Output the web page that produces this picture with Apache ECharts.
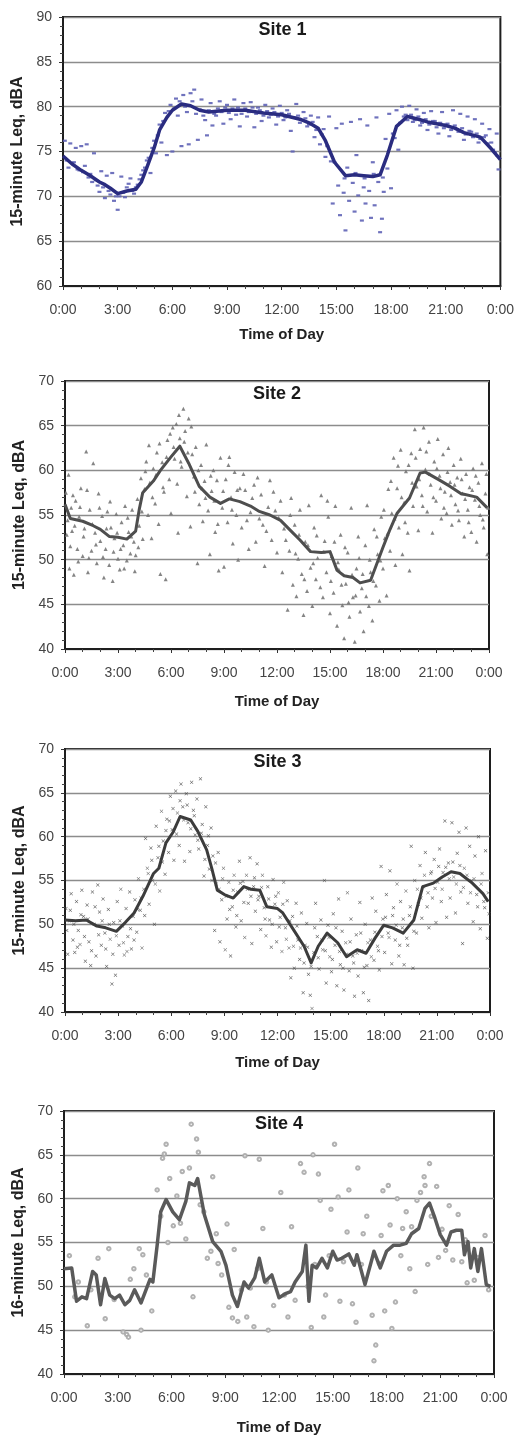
<!DOCTYPE html>
<html>
<head>
<meta charset="utf-8">
<script src="https://cdn.jsdelivr.net/npm/echarts@6/dist/echarts.min.js"></script>
<style>
  html, body { margin: 0; padding: 0; background: #fff; }
  #chart { width: 517px; height: 1436px; }
</style>
</head>
<body>
<div id="chart"></div>
<script>
// hours of day on x, 15-minute Leq (dBA) on y
var siteNames = ['Site 1', 'Site 2', 'Site 3', 'Site 4'];
var yNames = ['15-minute Leq, dBA', '15-minute Leq, dBA', '15-minute Leq, dBA', '16-minute Leq, dBA'];
var yRanges = [[60, 90], [40, 70], [40, 70], [40, 70]];

// average lines [hour, dBA]
var site1Avg = [[0,74.5],[0.5,73.6],[1,72.9],[1.5,72.3],[2,71.6],[2.3,71.3],[2.6,70.9],[3,70.3],[3.5,70.6],[4,70.8],[4.3,71.6],[4.6,73.2],[5,75.4],[5.3,77.4],[5.7,78.8],[6,79.6],[6.5,80.3],[7,80.1],[7.5,79.6],[8,79.4],[9,79.6],[10,79.6],[11,79.3],[12,79.1],[13,78.6],[13.5,78.2],[14,77.6],[14.4,76.2],[14.9,73.8],[15.5,72.3],[16,72.4],[16.5,72.3],[17,72.2],[17.4,72.4],[17.8,74.6],[18.3,77.8],[18.9,78.9],[19.5,78.6],[20,78.3],[21,77.9],[21.5,77.6],[22,77.1],[22.9,76.6],[23.5,75.3],[24,74.1]];
var site2Avg = [[0,56.2],[0.3,54.6],[1,54.3],[1.6,53.8],[2,53.4],[2.5,52.6],[3,52.5],[3.5,52.3],[4,53.2],[4.2,55.6],[4.4,57.5],[5,58.8],[5.4,60.0],[6,61.5],[6.5,62.7],[7,60.8],[7.6,58.2],[8.2,57.0],[8.8,56.3],[9.3,56.8],[9.9,56.5],[10.5,56.0],[11,55.4],[11.6,55.0],[12.2,54.4],[12.8,53.2],[13.3,52.2],[13.9,50.9],[14.5,50.8],[15,50.9],[15.4,48.8],[15.8,48.2],[16.3,48.0],[16.7,47.4],[17.3,47.7],[18,51.4],[18.4,53.4],[18.8,55.2],[19.5,56.9],[20.1,59.7],[20.4,59.8],[21.2,58.9],[21.8,58.2],[22.4,57.4],[23.3,57.0],[23.9,55.8]];
var site3Avg = [[0,50.5],[0.6,50.4],[1.2,50.5],[1.8,49.8],[2.3,49.6],[2.9,49.2],[3.4,50.2],[3.9,51.3],[4.4,53.2],[5,55.8],[5.3,56.4],[5.7,59.3],[6.1,60.5],[6.5,62.3],[7.1,61.9],[7.5,60.6],[8,58.5],[8.3,56.3],[8.6,53.9],[9,53.4],[9.5,53.0],[10.1,54.3],[10.5,54.0],[11,53.9],[11.4,52.0],[12,51.8],[12.3,51.3],[12.9,49.4],[13.5,47.5],[13.9,45.6],[14.3,47.5],[14.8,49.0],[15.4,47.9],[15.9,46.3],[16.5,47.1],[17,46.7],[17.5,48.4],[18,49.9],[18.5,49.6],[19.1,49.0],[19.7,50.5],[20.2,54.3],[20.8,54.7],[21.3,55.4],[21.8,56.0],[22.3,55.8],[23,54.7],[23.6,53.5],[23.9,52.6]];
var site4Avg = [[0,52.0],[0.43,52.1],[0.7,48.3],[1,48.8],[1.26,48.6],[1.6,51.7],[1.8,51.3],[2.04,47.9],[2.28,50.9],[2.55,49.0],[2.83,48.6],[3.1,49.0],[3.4,47.9],[3.67,48.4],[3.94,49.6],[4.3,48.1],[4.8,50.8],[4.96,50.5],[5.2,54.7],[5.4,58.5],[5.7,59.9],[6.07,58.5],[6.44,57.6],[6.8,59.7],[7,61.8],[7.3,61.5],[7.46,62.3],[7.83,58.2],[8.3,55.1],[8.76,54.0],[9.04,52.4],[9.4,49.0],[9.68,47.7],[10.05,50.5],[10.3,49.8],[10.65,51.0],[10.9,53.2],[11.2,50.5],[11.6,51.3],[12,48.7],[12.4,49.2],[12.65,49.4],[12.9,50.5],[13.3,51.7],[13.5,54.7],[13.67,48.3],[13.85,52.4],[14.1,52.1],[14.4,53.2],[14.7,52.1],[15,54.0],[15.24,53.0],[15.5,53.2],[15.9,53.7],[16.2,52.4],[16.35,53.6],[16.8,50.2],[17.2,53.2],[17.3,54.0],[17.65,52.1],[18,54.0],[18.4,54.7],[18.76,54.7],[19.1,54.9],[19.4,56.0],[19.8,56.6],[20.15,58.9],[20.4,59.5],[20.7,57.8],[21,55.9],[21.35,54.7],[21.6,56.2],[21.9,56.4],[22.2,56.4],[22.35,53.6],[22.55,55.1],[22.7,52.1],[22.9,54.3],[23.1,51.7],[23.3,54.3],[23.57,50.2],[23.8,50.0]];

// individual 15-minute readings [hour, dBA]
var site1Pts = [[0.1,76.2],[0.3,73.2],[0.4,75.9],[0.6,73.8],[0.7,75.4],[0.9,72.9],[1.0,75.6],[1.2,73.4],[1.3,75.8],[1.5,72.5],[1.7,74.8],[1.8,71.8],[2.0,70.5],[2.1,72.8],[2.3,69.8],[2.4,72.3],[2.6,70.2],[2.7,72.6],[2.8,69.5],[3.0,68.5],[3.1,70.0],[3.2,72.2],[3.4,69.9],[3.6,71.4],[3.7,72.0],[3.9,70.3],[4.1,71.3],[4.3,72.4],[4.5,73.2],[4.7,74.3],[4.8,72.6],[5.0,76.2],[5.1,74.8],[5.3,78.0],[5.4,76.0],[5.6,79.3],[5.7,74.6],[5.9,80.2],[6.0,75.0],[6.2,80.9],[6.3,79.0],[6.5,75.6],[6.6,81.3],[6.8,79.4],[6.9,75.8],[7.0,81.5],[7.2,81.9],[7.3,79.2],[7.4,76.3],[7.6,80.8],[7.8,78.5],[7.9,76.8],[8.1,80.4],[8.2,77.9],[8.4,79.0],[8.6,80.6],[8.8,78.1],[9.0,80.2],[9.2,78.6],[9.4,80.8],[9.5,79.1],[9.7,77.8],[9.9,80.4],[10.1,78.9],[10.3,80.5],[10.5,77.7],[10.7,79.9],[10.9,78.4],[11.1,80.2],[11.3,78.8],[11.5,79.8],[11.7,78.0],[11.9,80.1],[12.1,78.5],[12.3,79.6],[12.5,77.3],[12.6,75.0],[12.8,80.3],[13.0,78.2],[13.2,79.4],[13.4,77.8],[13.6,79.0],[13.8,76.6],[14.0,78.8],[14.1,75.8],[14.3,77.5],[14.4,74.4],[14.6,78.9],[14.7,73.9],[14.8,69.2],[15.0,77.6],[15.1,71.2],[15.2,67.9],[15.3,78.1],[15.4,70.4],[15.5,66.2],[15.6,73.2],[15.7,69.5],[15.8,78.3],[15.9,71.5],[16.0,68.3],[16.1,74.6],[16.2,70.1],[16.3,78.6],[16.4,67.3],[16.5,71.0],[16.6,69.2],[16.7,77.9],[16.8,70.6],[16.9,67.6],[17.0,73.8],[17.1,69.0],[17.2,78.8],[17.3,71.6],[17.4,66.0],[17.5,67.5],[17.6,70.5],[17.7,76.4],[17.8,73.1],[17.9,79.2],[18.0,70.9],[18.1,77.0],[18.3,79.6],[18.4,75.2],[18.6,80.0],[18.8,79.1],[19.0,80.1],[19.2,78.3],[19.4,79.7],[19.6,77.9],[19.8,79.3],[20.0,77.4],[20.2,79.5],[20.4,78.4],[20.6,77.0],[20.8,79.4],[21.0,78.0],[21.2,76.7],[21.4,79.6],[21.6,77.5],[21.8,79.2],[22.0,76.3],[22.2,78.9],[22.4,77.2],[22.6,78.6],[22.8,76.0],[23.0,78.1],[23.2,76.8],[23.4,77.5],[23.6,75.2],[23.8,77.0],[23.9,73.0],
  [0.2,74.0],[0.5,73.7],[0.8,73.0],[1.1,72.7],[1.4,72.1],[1.6,71.6],[1.9,71.2],[2.2,71.0],[2.5,70.6],[2.9,70.0],[3.3,70.4],[3.5,71.0],[3.8,70.6],[4.0,71.0],[4.2,71.9],[4.4,72.9],[4.6,74.0],[4.9,75.4],[5.2,76.8],[5.5,78.4],[5.8,79.5],[6.1,79.8],[6.4,80.6],[6.7,80.0],[7.1,80.6],[7.5,79.7],[7.7,79.0],[8.0,79.6],[8.3,79.2],[8.5,79.8],[8.7,79.4],[8.9,79.9],[9.1,79.3],[9.3,79.8],[9.6,79.9],[9.8,79.2],[10.0,79.8],[10.2,79.4],[10.4,79.9],[10.6,79.2],[10.8,79.6],[11.0,79.0],[11.2,79.5],[11.4,79.1],[11.6,79.4],[11.8,78.9],[12.0,79.3],[12.2,78.8],[12.4,79.2],[12.7,78.8],[12.9,79.0],[13.1,78.5],[13.3,78.7],[13.5,78.0],[13.7,78.3],[13.9,77.4],[14.2,76.9],[14.5,75.6],[14.9,73.8],[15.45,72.0],[16.05,72.6],[16.55,72.0],[17.05,72.5],[17.55,72.1],[18.2,76.5],[18.5,78.2],[18.7,78.9],[18.9,78.5],[19.1,79.1],[19.3,78.5],[19.5,78.9],[19.7,78.2],[19.9,78.6],[20.1,78.0],[20.3,78.4],[20.5,77.7],[20.7,78.2],[20.9,77.6],[21.1,78.1],[21.3,77.4],[21.5,77.9],[21.7,77.2],[21.9,77.6],[22.1,76.9],[22.3,77.3],[22.5,76.6],[22.7,77.0],[22.9,76.4],[23.1,76.6],[23.3,75.9],[23.5,76.0],[23.7,74.9],[23.85,74.5]];
var site2Pts = [[0.05,57.5],[0.1,52.8],[0.2,59.5],[0.25,49.0],[0.35,55.8],[0.4,53.2],[0.5,48.3],[0.6,56.6],[0.7,51.2],[0.8,54.8],[0.9,58.0],[1.0,50.4],[1.1,53.5],[1.2,62.1],[1.3,48.6],[1.4,55.6],[1.5,51.0],[1.6,60.8],[1.7,53.0],[1.8,49.6],[1.9,57.4],[2.0,52.1],[2.1,54.9],[2.2,48.0],[2.3,51.2],[2.4,55.4],[2.5,49.4],[2.6,53.6],[2.7,47.6],[2.8,52.4],[2.9,55.1],[3.0,50.1],[3.1,48.9],[3.2,54.2],[3.3,51.6],[3.4,56.0],[3.5,49.9],[3.6,53.1],[3.7,50.7],[3.8,55.6],[3.9,52.0],[4.0,50.5],[4.1,56.8],[4.2,53.8],[4.3,59.1],[4.4,52.3],[4.5,57.9],[4.6,61.0],[4.7,55.0],[4.8,58.6],[4.9,52.4],[5.0,60.2],[5.1,56.3],[5.2,62.0],[5.3,54.0],[5.4,48.4],[5.5,60.9],[5.6,57.6],[5.7,47.8],[5.8,63.4],[5.9,59.0],[6.0,55.2],[6.1,64.8],[6.2,61.3],[6.3,65.2],[6.4,53.0],[6.5,63.6],[6.6,60.4],[6.7,66.9],[6.8,64.4],[6.9,57.1],[7.0,65.8],[7.1,53.7],[7.2,61.8],[7.3,59.3],[7.4,62.6],[7.5,49.6],[7.6,56.2],[7.7,60.6],[7.8,54.3],[7.9,58.8],[8.0,62.9],[8.1,55.5],[8.2,50.6],[8.3,57.7],[8.4,60.0],[8.5,53.1],[8.6,58.9],[8.7,48.8],[8.8,61.4],[8.9,55.8],[9.0,49.2],[9.1,59.0],[9.2,54.2],[9.3,61.5],[9.4,57.0],[9.5,51.8],[9.6,59.8],[9.7,55.0],[9.8,50.0],[9.9,58.0],[10.0,53.6],[10.2,57.8],[10.4,51.2],[10.5,55.3],[10.7,58.4],[10.8,52.0],[11.0,54.6],[11.1,57.3],[11.3,49.3],[11.4,53.2],[11.6,58.9],[11.7,52.2],[11.9,55.5],[12.0,50.8],[12.2,56.6],[12.3,48.6],[12.4,53.5],[12.6,44.4],[12.7,51.0],[12.8,56.9],[12.9,47.2],[13.0,53.9],[13.1,45.9],[13.2,50.1],[13.3,55.6],[13.4,48.4],[13.5,43.8],[13.6,52.0],[13.7,46.5],[13.8,56.1],[13.9,49.1],[14.0,44.8],[14.1,53.6],[14.2,47.8],[14.3,50.2],[14.5,57.2],[14.6,45.8],[14.7,52.1],[14.8,48.6],[14.9,54.8],[15.0,44.0],[15.1,50.4],[15.2,46.3],[15.3,56.0],[15.4,42.6],[15.5,48.9],[15.6,52.8],[15.7,44.9],[15.8,41.2],[15.9,47.3],[16.0,50.8],[16.1,43.6],[16.2,55.8],[16.3,45.8],[16.4,40.8],[16.5,49.0],[16.6,52.6],[16.7,44.2],[16.8,46.8],[16.9,42.0],[17.0,51.6],[17.1,56.1],[17.2,44.8],[17.3,48.6],[17.4,43.2],[17.5,53.4],[17.6,47.1],[17.7,50.6],[17.8,45.4],[17.9,54.8],[18.0,49.0],[18.1,52.4],[18.2,46.0],[18.3,57.9],[18.4,51.0],[18.5,55.2],[18.6,61.4],[18.7,49.4],[18.8,58.0],[18.9,53.6],[19.0,62.3],[19.1,50.6],[19.2,56.4],[19.3,59.9],[19.4,53.0],[19.5,48.8],[19.6,61.9],[19.7,56.0],[19.8,64.6],[19.9,58.2],[20.0,53.3],[20.1,62.4],[20.2,57.2],[20.3,64.8],[20.4,60.1],[20.5,55.4],[20.6,63.2],[20.7,58.4],[20.8,53.0],[20.9,61.0],[21.0,56.6],[21.1,63.5],[21.2,59.4],[21.3,54.6],[21.4,61.8],[21.5,57.6],[21.6,55.2],[21.7,62.5],[21.8,58.7],[21.9,53.9],[22.0,60.6],[22.1,56.2],[22.2,59.2],[22.3,54.4],[22.4,61.3],[22.5,57.4],[22.6,52.6],[22.7,59.6],[22.8,55.6],[22.9,58.1],[23.0,53.1],[23.1,60.2],[23.2,56.7],[23.3,52.0],[23.4,58.6],[23.5,55.0],[23.6,60.8],[23.7,53.6],[23.8,57.4],[23.9,50.6],[23.95,55.8],
  [0.15,54.4],[0.3,51.5],[0.45,57.2],[0.55,53.8],[0.75,49.8],[0.85,55.9],[1.05,52.6],[1.25,57.8],[1.35,50.2],[1.55,54.0],[1.75,51.7],[1.95,55.8],[2.15,50.3],[2.35,53.5],[2.55,56.5],[2.75,50.9],[2.95,53.0],[3.15,51.2],[3.35,49.0],[3.55,54.7],[3.75,52.6],[3.95,48.7],[4.15,51.4],[4.35,55.4],[4.55,59.9],[4.75,62.8],[4.95,57.0],[5.15,59.5],[5.35,63.0],[5.55,58.1],[5.75,61.5],[5.95,64.1],[6.15,62.6],[6.35,58.5],[6.45,66.2],[6.55,61.0],[6.75,63.2],[6.95,62.0],[7.15,64.9],[7.35,57.6],[7.55,60.0],[7.75,58.0],[7.95,56.9],[8.25,59.4],[8.45,56.6],[8.65,54.0],[8.95,57.7],[9.25,60.6],[9.45,55.6],[9.75,57.8],[10.1,59.6],[10.3,54.4],[10.6,56.9],[10.9,59.2],[11.2,53.9],[11.5,55.9],[11.8,57.6],[12.1,54.7],[12.5,52.2],[12.75,55.0],[13.05,50.7],[13.25,52.8],[13.55,47.8],[13.75,51.6],[14.05,49.6],[14.25,52.7],[14.45,46.9],[14.65,50.9],[14.85,56.6],[15.05,47.6],[15.25,52.0],[15.45,49.7],[15.65,47.2],[15.85,51.4],[16.05,45.2],[16.25,48.3],[16.45,46.0],[16.65,50.2],[16.85,48.4],[17.05,45.9],[17.25,50.0],[17.45,47.6],[17.65,52.6],[17.85,49.9],[18.05,55.6],[18.25,52.9],[18.45,58.8],[18.65,54.6],[18.85,60.5],[19.05,57.0],[19.25,54.2],[19.45,60.6],[19.65,58.6],[19.85,61.4],[20.05,59.0],[20.25,56.0],[20.45,62.1],[20.65,59.6],[20.85,57.0],[21.05,60.2],[21.25,58.0],[21.45,55.8],[21.65,59.8],[21.85,57.2],[22.05,58.4],[22.25,55.5],[22.45,59.0],[22.65,56.8],[22.85,54.2],[23.05,57.8],[23.25,59.4],[23.45,56.0],[23.65,54.5],[23.85,59.6]];
var site3Pts = [[0.05,51.8],[0.15,46.6],[0.25,50.4],[0.35,53.5],[0.45,48.2],[0.55,46.8],[0.65,52.6],[0.75,49.3],[0.85,47.7],[0.95,53.9],[1.05,50.9],[1.15,45.8],[1.25,52.2],[1.35,48.0],[1.45,45.3],[1.55,53.7],[1.65,50.0],[1.75,46.4],[1.85,54.5],[1.95,51.4],[2.05,47.6],[2.15,52.9],[2.25,49.0],[2.35,45.2],[2.45,51.7],[2.55,48.3],[2.65,43.2],[2.75,50.2],[2.85,44.2],[2.95,52.6],[3.05,47.6],[3.15,54.0],[3.25,49.8],[3.35,46.5],[3.45,51.8],[3.55,48.6],[3.65,53.7],[3.75,47.2],[3.85,50.9],[3.95,52.8],[4.05,49.1],[4.15,55.2],[4.25,51.6],[4.35,47.3],[4.45,54.0],[4.55,59.8],[4.65,56.4],[4.75,52.3],[4.85,58.7],[4.95,55.0],[5.05,50.0],[5.15,61.2],[5.25,57.6],[5.35,53.8],[5.45,62.9],[5.55,59.5],[5.65,55.7],[5.75,62.0],[5.85,58.2],[5.95,64.6],[6.05,60.8],[6.15,57.3],[6.25,65.2],[6.35,62.7],[6.45,59.0],[6.55,66.0],[6.65,63.4],[6.75,57.2],[6.85,64.9],[6.95,61.6],[7.05,58.3],[7.15,66.2],[7.25,63.0],[7.35,60.2],[7.45,64.3],[7.55,58.6],[7.65,66.6],[7.75,61.4],[7.85,55.5],[7.95,63.4],[8.05,59.0],[8.15,56.3],[8.25,61.0],[8.35,57.8],[8.45,49.3],[8.55,54.6],[8.65,58.2],[8.75,48.0],[8.85,52.8],[8.95,56.4],[9.05,47.1],[9.15,50.6],[9.25,54.8],[9.35,46.4],[9.45,52.0],[9.55,55.6],[9.65,49.7],[9.75,53.7],[9.85,57.2],[9.95,50.4],[10.05,54.9],[10.15,48.5],[10.25,55.6],[10.35,52.4],[10.45,57.6],[10.55,47.8],[10.65,54.3],[10.75,51.5],[10.85,56.9],[10.95,53.2],[11.05,49.4],[11.15,55.6],[11.25,51.9],[11.35,48.7],[11.45,54.3],[11.55,50.5],[11.65,47.4],[11.75,55.1],[11.85,52.3],[11.95,48.0],[12.05,53.6],[12.15,50.8],[12.25,46.9],[12.35,54.8],[12.45,49.6],[12.55,52.7],[12.65,47.3],[12.75,43.9],[12.85,50.9],[12.95,45.0],[13.05,52.4],[13.15,48.2],[13.25,46.0],[13.35,51.3],[13.45,42.2],[13.55,47.6],[13.65,50.1],[13.75,44.3],[13.85,41.9],[13.95,40.4],[14.05,46.8],[14.15,52.4],[14.25,48.6],[14.35,44.9],[14.45,50.5],[14.55,47.1],[14.65,55.0],[14.75,43.3],[14.85,49.9],[14.95,46.3],[15.05,44.6],[15.15,51.2],[15.25,47.6],[15.35,43.0],[15.45,52.9],[15.55,45.4],[15.65,49.2],[15.75,42.5],[15.85,47.9],[15.95,53.6],[16.05,44.7],[16.15,50.6],[16.25,46.4],[16.35,41.8],[16.45,48.8],[16.55,44.1],[16.65,52.5],[16.75,47.0],[16.85,42.2],[16.95,50.0],[17.05,45.3],[17.15,41.3],[17.25,48.2],[17.35,53.0],[17.45,45.9],[17.55,51.5],[17.65,47.5],[17.75,44.8],[17.85,56.6],[17.95,50.6],[18.05,46.8],[18.15,53.4],[18.25,49.0],[18.35,56.1],[18.45,45.5],[18.55,51.9],[18.65,48.2],[18.75,54.6],[18.85,46.4],[18.95,52.6],[19.05,49.6],[19.15,45.4],[19.25,53.8],[19.35,47.6],[19.45,51.0],[19.55,58.9],[19.65,45.0],[19.75,55.0],[19.85,49.0],[19.95,52.3],[20.05,56.7],[20.15,50.7],[20.25,54.3],[20.35,58.2],[20.45,52.0],[20.55,49.6],[20.65,55.8],[20.75,53.0],[20.85,57.4],[20.95,50.2],[21.05,54.8],[21.15,58.6],[21.25,52.6],[21.35,55.9],[21.45,61.8],[21.55,50.8],[21.65,57.0],[21.75,53.0],[21.85,61.6],[21.95,55.4],[22.05,51.3],[22.15,58.1],[22.25,60.5],[22.35,53.7],[22.45,47.8],[22.55,56.4],[22.65,61.0],[22.75,52.4],[22.85,58.9],[22.95,55.0],[23.05,50.3],[23.15,57.8],[23.25,53.4],[23.35,60.0],[23.45,49.5],[23.55,55.8],[23.65,52.6],[23.75,58.4],[23.85,48.4],[23.95,51.2],
  [0.1,49.3],[0.3,51.6],[0.5,50.0],[0.7,47.4],[0.9,51.1],[1.1,48.6],[1.3,50.6],[1.5,47.0],[1.7,52.0],[1.9,48.8],[2.1,50.4],[2.3,47.2],[2.5,50.0],[2.7,46.6],[2.9,48.7],[3.1,50.4],[3.3,47.9],[3.5,46.9],[3.7,49.5],[3.9,48.2],[4.1,51.7],[4.3,53.0],[4.5,51.0],[4.7,55.8],[4.9,57.3],[5.1,54.6],[5.3,58.9],[5.5,57.1],[5.7,60.7],[5.9,61.8],[6.1,63.2],[6.3,60.3],[6.5,64.1],[6.7,61.9],[6.9,63.6],[7.1,60.9],[7.3,62.4],[7.5,59.6],[7.7,60.4],[7.9,57.4],[8.1,60.1],[8.3,55.0],[8.5,57.0],[8.7,54.0],[8.9,55.2],[9.1,53.2],[9.3,51.7],[9.5,53.9],[9.7,51.0],[9.9,54.7],[10.1,52.5],[10.3,54.0],[10.5,53.2],[10.7,55.3],[10.9,52.8],[11.1,54.2],[11.3,50.6],[11.5,52.9],[11.7,50.0],[11.9,53.2],[12.1,49.7],[12.3,52.3],[12.5,48.3],[12.7,50.4],[12.9,47.5],[13.1,49.8],[13.3,47.3],[13.5,45.6],[13.7,47.4],[13.9,45.2],[14.1,49.6],[14.3,46.2],[14.5,48.2],[14.7,47.0],[14.9,48.5],[15.1,46.0],[15.3,49.6],[15.5,46.9],[15.7,45.0],[15.9,46.6],[16.1,48.0],[16.3,45.6],[16.5,46.7],[16.7,49.0],[16.9,45.1],[17.1,47.9],[17.3,46.3],[17.5,49.1],[17.7,47.0],[17.9,48.6],[18.1,50.8],[18.3,48.5],[18.5,51.0],[18.7,49.9],[18.9,47.6],[19.1,50.6],[19.3,48.4],[19.5,52.0],[19.7,49.2],[19.9,54.0],[20.1,53.0],[20.3,55.6],[20.5,53.6],[20.7,56.0],[20.9,54.1],[21.1,56.6],[21.3,54.0],[21.5,56.5],[21.7,55.2],[21.9,57.1],[22.1,54.6],[22.3,56.7],[22.5,54.2],[22.7,55.6],[22.9,53.6],[23.1,55.2],[23.3,52.0],[23.5,54.6],[23.7,51.9],[23.9,53.6]];
var site4Pts = [[0.3,53.5],[0.6,48.8],[0.8,50.5],[1.3,45.5],[1.5,49.6],[1.9,53.2],[2.3,46.3],[2.5,54.3],[2.8,48.5],[3.3,44.8],[3.5,44.5],[3.6,44.2],[3.7,50.8],[3.9,52.0],[4.2,54.3],[4.3,45.0],[4.4,53.6],[4.6,51.3],[4.9,47.2],[5.2,61.0],[5.4,58.0],[5.5,64.6],[5.6,65.1],[5.7,66.2],[5.8,55.0],[5.9,62.3],[6.1,56.9],[6.3,60.3],[6.5,57.2],[6.6,63.1],[6.8,55.4],[7.0,63.5],[7.1,68.5],[7.2,48.8],[7.4,66.8],[7.5,65.3],[7.6,59.3],[7.8,58.5],[8.0,53.2],[8.2,54.0],[8.3,62.5],[8.5,56.0],[8.6,52.6],[8.8,51.3],[9.1,57.1],[9.2,47.6],[9.4,46.4],[9.5,54.2],[9.7,46.0],[9.9,49.6],[10.1,64.9],[10.2,46.5],[10.4,49.8],[10.6,45.4],[10.8,52.0],[10.9,64.5],[11.1,56.6],[11.3,50.5],[11.4,45.0],[11.7,47.8],[12.1,60.7],[12.3,49.0],[12.5,46.5],[12.7,56.8],[12.9,48.4],[13.2,64.0],[13.4,63.0],[13.6,50.0],[13.8,45.3],[13.9,65.0],[14.0,52.5],[14.2,62.8],[14.3,59.8],[14.5,46.5],[14.6,49.0],[14.8,53.5],[14.9,58.8],[15.1,66.2],[15.3,60.2],[15.4,48.3],[15.6,52.8],[15.8,56.2],[15.9,61.0],[16.1,48.0],[16.3,45.9],[16.4,63.5],[16.6,52.5],[16.7,56.0],[16.9,58.0],[17.2,46.7],[17.3,41.5],[17.4,43.3],[17.6,52.6],[17.7,55.8],[17.8,60.9],[17.9,47.2],[18.1,61.5],[18.2,57.0],[18.3,45.2],[18.5,48.2],[18.6,60.0],[18.8,53.5],[18.9,56.6],[19.1,58.5],[19.3,52.0],[19.4,56.8],[19.6,49.4],[19.7,59.8],[19.9,60.7],[20.1,62.5],[20.15,61.5],[20.3,52.5],[20.4,64.0],[20.5,58.0],[20.8,61.4],[20.9,53.3],[21.1,56.5],[21.3,54.1],[21.5,59.2],[21.7,53.0],[22.0,58.2],[22.2,52.8],[22.4,55.3],[22.5,50.4],[22.9,50.7],[23.1,53.3],[23.5,55.8],[23.7,49.6]];

var avgLines = [site1Avg, site2Avg, site3Avg, site4Avg];
var readings = [site1Pts, site2Pts, site3Pts, site4Pts];

var boxes = [
  { left: 63, top: 17, width: 439, height: 269 },
  { left: 65, top: 381, width: 424, height: 268 },
  { left: 65, top: 749, width: 425, height: 263 },
  { left: 64, top: 1111, width: 430, height: 263 }
];
var xNameGaps = [41, 45, 43, 46];
var lineColors = ['#2a2c80', '#4e4e4e', '#3c3c3c', '#5a5a5a'];
var lineWidths = [3.5, 3, 3, 3.5];
var ptColors = ['#5f63b6', '#777777', '#454545', '#a8a8a8'];
var ptSymbols = ['rect', 'triangle', 'path://M0,1L1,0L5,4L9,0L10,1L6,5L10,9L9,10L5,6L1,10L0,9L4,5Z', 'emptyCircle'];
var ptSizes = [[4, 2.2], 4, 3.5, 3.5];

var font = 'Liberation Sans, Arial, sans-serif';
var grids = [], xAxes = [], yAxes = [], series = [], titles = [];

boxes.forEach(function (b, i) {
  grids.push({ left: b.left, top: b.top, width: b.width, height: b.height, show: true,
    borderColor: '#1e1e1e', borderWidth: 2, backgroundColor: '#fff' });
  titles.push({ text: siteNames[i], left: b.left + b.width / 2, top: b.top + 4, textAlign: 'center', padding: 0,
    textStyle: { fontFamily: font, fontSize: 18, fontWeight: 'bold', color: '#1a1a1a' } });
  xAxes.push({
    gridIndex: i, type: 'value', min: 0, max: 24, interval: 3,
    name: 'Time of Day', nameLocation: 'middle', nameGap: xNameGaps[i],
    nameTextStyle: { fontFamily: font, fontSize: 15, fontWeight: 'bold', color: '#222' },
    axisLine: { show: true, lineStyle: { color: '#1e1e1e', width: 2 } },
    axisTick: { show: true, length: 4, lineStyle: { color: '#333' } },
    minorTick: { show: true, splitNumber: 3, length: 3, lineStyle: { color: '#444' } },
    splitLine: { show: false },
    axisLabel: { fontFamily: font, fontSize: 14, color: '#444', margin: 17,
      formatter: function (v) { return (v % 24) + ':00'; } }
  });
  yAxes.push({
    gridIndex: i, type: 'value', min: yRanges[i][0], max: yRanges[i][1], interval: 5,
    name: yNames[i], nameLocation: 'middle', nameGap: 37, nameRotate: 90,
    nameTextStyle: { fontFamily: font, fontSize: 16, fontWeight: 'bold', color: '#222' },
    axisLine: { show: true, lineStyle: { color: '#1e1e1e', width: 2 } },
    axisTick: { show: true, length: 4, lineStyle: { color: '#333' } },
    minorTick: { show: true, splitNumber: 5, length: 3, lineStyle: { color: '#444' } },
    splitLine: { show: true, lineStyle: { color: '#8c8c8c', width: 1.3 } },
    axisLabel: { fontFamily: font, fontSize: 14, color: '#444', margin: 11 }
  });
  series.push({
    type: 'scatter', xAxisIndex: i, yAxisIndex: i, data: readings[i],
    symbol: ptSymbols[i], symbolSize: ptSizes[i], silent: true,
    itemStyle: { color: ptColors[i], opacity: 0.9, borderWidth: i === 3 ? 1 : 0, borderColor: ptColors[i] }
  });
  series.push({
    type: 'line', xAxisIndex: i, yAxisIndex: i, data: avgLines[i],
    showSymbol: false, silent: true, z: 3,
    lineStyle: { color: lineColors[i], width: lineWidths[i], join: 'round' }
  });
});

var myChart = echarts.init(document.getElementById('chart'), null, { renderer: 'canvas' });
var option = {
  animation: false,
  backgroundColor: '#fff',
  title: titles,
  grid: grids,
  xAxis: xAxes,
  yAxis: yAxes,
  series: series
};
option && myChart.setOption(option);
</script>
</body>
</html>
